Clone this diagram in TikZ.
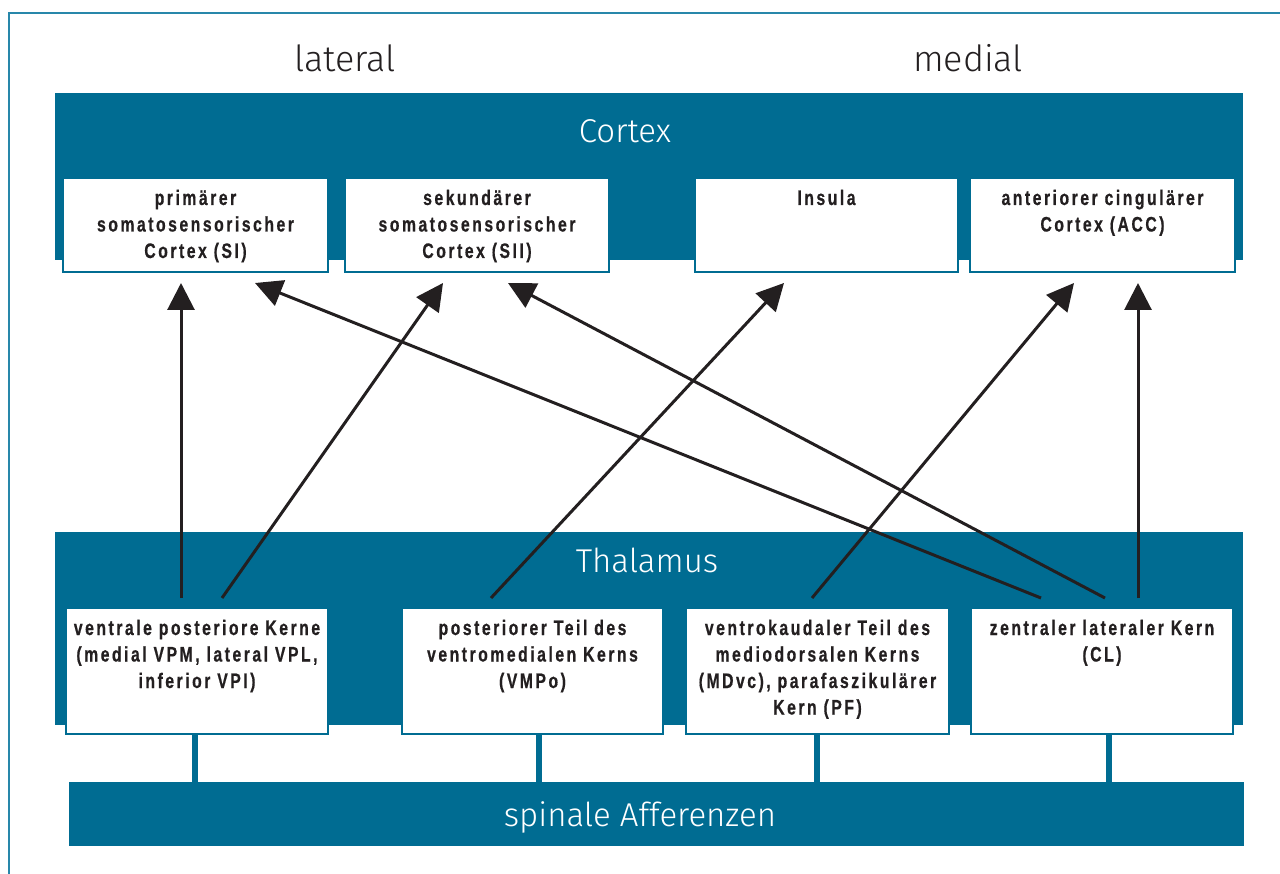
\documentclass[tikz,border=0pt]{standalone}
\usepackage{fontspec}
\usetikzlibrary{arrows.meta}
\newfontfamily\boxfont{Liberation Sans}[UprightFont={* Bold},FakeStretch=0.75,LetterSpace=12,FakeBold=0.6]
\newfontfamily\titlefont{Fira Sans Light}
\definecolor{tblue}{RGB}{0,108,146}
\definecolor{frameblue}{RGB}{40,135,170}
\definecolor{ink}{RGB}{35,31,32}
\newcommand\bxt[3]{\parbox[t][#2][t]{#1}{\centering\rule{0pt}{27pt}#3}}
\begin{document}
\begin{tikzpicture}[x=1pt,y=-1pt,
  band/.style={fill=tblue, draw=none, inner sep=0pt, outer sep=0pt, anchor=north west},
  box/.style={draw=tblue, line width=2pt, fill=white, inner sep=0pt, outer sep=0pt, anchor=north west, text=ink,
    font=\boxfont\fontsize{21}{26.5}\selectfont},
  bigtitle/.style={font=\titlefont\fontsize{36}{40}\selectfont, text=ink, anchor=base},
  bandlabel/.style={font=\titlefont\fontsize{33}{38}\selectfont, text=white, anchor=base},
  stem/.style={draw=tblue, line width=6.5pt},
  arr/.style={draw=ink, line width=3pt, -{Triangle[length=27pt,width=27pt]}}]
\useasboundingbox (0,0) rectangle (1280,874);
\clip (0,0) rectangle (1280,874);
% frame
\draw[frameblue, line width=1.5pt] (9,890) -- (9,13) -- (1300,13);
% titles
\node[bigtitle] (lat) at (345,72) {lateral};
\node[bigtitle] (med) at (968,72) {medial};
% bands
\node[band, minimum width=1188pt, minimum height=167pt] (cortex) at (55,93) {};
\node[band, minimum width=1188pt, minimum height=193pt] (thal) at (55,532) {};
\node[band, minimum width=1175pt, minimum height=64pt] (spinal) at (69,782) {};
\node[bandlabel] (cortexlab) at (625,143) {Cortex};
\node[bandlabel] (thallab) at (647,572) {Thalamus};
\node[bandlabel] (spinlab) at (640,826) {spinale Afferenzen};
% stem x positions
\coordinate (s1) at (195,0);
\coordinate (s2) at (539,0);
\coordinate (s3) at (817,0);
\coordinate (s4) at (1109,0);
\draw[stem] (s1 |- 0,730) -- (spinal.north -| s1);
\draw[stem] (s2 |- 0,730) -- (spinal.north -| s2);
\draw[stem] (s3 |- 0,730) -- (spinal.north -| s3);
\draw[stem] (s4 |- 0,730) -- (spinal.north -| s4);
% cortex boxes
\node[box] (SI) at (63,178) {\bxt{265pt}{94pt}{primärer\\somatosensorischer\\Cortex (SI)}};
\node[box] (SII) at (345,178) {\bxt{264pt}{94pt}{sekundärer\\somatosensorischer\\Cortex (SII)}};
\node[box] (INS) at (695,178) {\bxt{263pt}{94pt}{Insula}};
\node[box] (ACC) at (970,178) {\bxt{265pt}{94pt}{anteriorer cingulärer\\Cortex (ACC)}};
% thalamus boxes
\node[box] (VP) at (66,608) {\bxt{262pt}{126pt}{ventrale posteriore Kerne\\(medial VPM, lateral VPL,\\inferior VPI)}};
\node[box] (VMPo) at (402,608) {\bxt{261pt}{126pt}{posteriorer Teil des\\ventromedialen Kerns\\(VMPo)}};
\node[box] (MD) at (686,608) {\bxt{263pt}{126pt}{ventrokaudaler Teil des\\mediodorsalen Kerns\\(MDvc), parafaszikulärer\\Kern (PF)}};
\node[box] (CL) at (971,608) {\bxt{262pt}{126pt}{zentraler lateraler Kern\\(CL)}};
% arrow end points
\coordinate (a1s) at (181,598);  \coordinate (a1e) at (181,283);
\coordinate (a2s) at (222,598);  \coordinate (a2e) at (443,283);
\coordinate (a3s) at (491,598);  \coordinate (a3e) at (784,283);
\coordinate (a4s) at (812,598);  \coordinate (a4e) at (1074,283);
\coordinate (a5s) at (1138,598); \coordinate (a5e) at (1138,283);
\coordinate (a6s) at (1041,598); \coordinate (a6e) at (255,283);
\coordinate (a7s) at (1105,598); \coordinate (a7e) at (508,283);
\draw[arr] (a1s) -- (a1e);
\draw[arr] (a2s) -- (a2e);
\draw[arr] (a3s) -- (a3e);
\draw[arr] (a4s) -- (a4e);
\draw[arr] (a5s) -- (a5e);
\draw[arr] (a6s) -- (a6e);
\draw[arr] (a7s) -- (a7e);
\end{tikzpicture}
\end{document}
